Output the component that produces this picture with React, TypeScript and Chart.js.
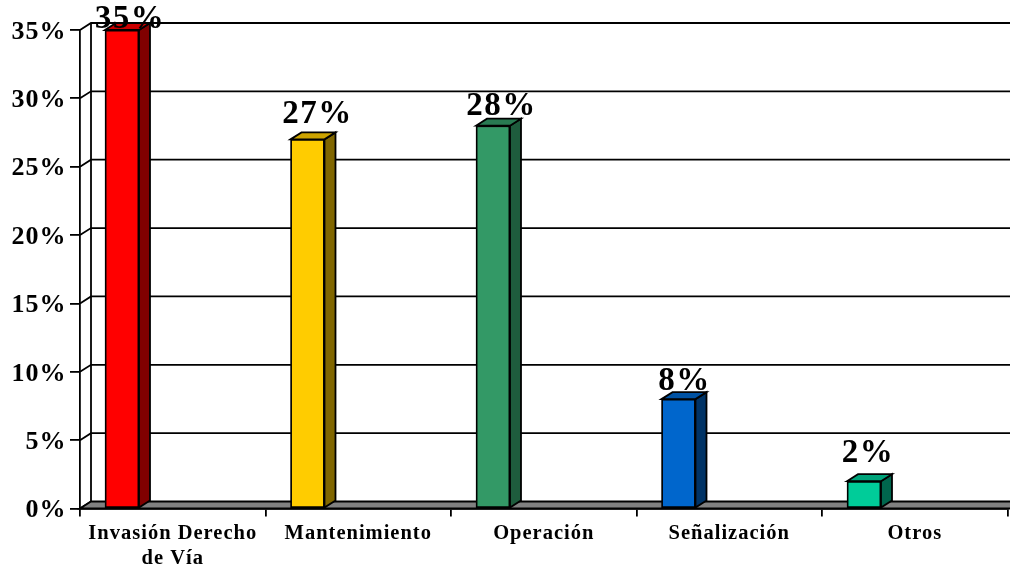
import React, { useEffect, useRef } from "react";
import { Chart, registerables } from "chart.js";

Chart.register(...registerables);

const categories: (string | string[])[] = [
  ["Invasión Derecho", "de Vía"],
  "Mantenimiento",
  "Operación",
  "Señalización",
  "Otros",
];
const shares = [35, 27, 28, 8, 2];
const yTickStep = 5;
const yMax = 35;

const frontColors = ["#FF0000", "#FFCC00", "#339966", "#0066CC", "#00CC99"];
const sideColors = ["#800000", "#806600", "#1E5C3D", "#003366", "#00664D"];
const topColors = ["#CC0000", "#CCA300", "#297A52", "#0052A3", "#00A37A"];

const labelNudgeX = [8, 10, 8.5, 6, 4];
const labelGapY = [2, 16, 11, 9, 19];

const DEPTH_X = 11;
const DEPTH_Y = 7;
const LINE = 1.8;
const FONT = "Liberation Serif";

const poly = (ctx: CanvasRenderingContext2D, pts: number[][], fill: string | null) => {
  ctx.beginPath();
  pts.forEach(([x, y], i) => (i ? ctx.lineTo(x, y) : ctx.moveTo(x, y)));
  ctx.closePath();
  if (fill) {
    ctx.fillStyle = fill;
    ctx.fill();
  }
  ctx.stroke();
};

const box3d = {
  id: "box3d",
  beforeDraw(chart: any) {
    (chart.ctx as any).letterSpacing = "1px";
  },
  beforeDatasetsDraw(chart: any) {
    const { ctx, chartArea: a, scales } = chart;
    const y = scales.y;
    ctx.save();
    ctx.strokeStyle = "#000";
    ctx.lineWidth = LINE;
    // back wall gridlines and left wall diagonals
    y.ticks.forEach((t: any) => {
      const py = y.getPixelForValue(t.value);
      ctx.beginPath();
      ctx.moveTo(a.left, py);
      ctx.lineTo(a.left + DEPTH_X, py - DEPTH_Y);
      if (t.value !== 0) ctx.lineTo(chart.width + DEPTH_X, py - DEPTH_Y);
      ctx.stroke();
    });
    ctx.beginPath();
    ctx.moveTo(a.left + DEPTH_X, a.top - DEPTH_Y);
    ctx.lineTo(a.left + DEPTH_X, a.bottom - DEPTH_Y);
    ctx.stroke();
    // floor
    poly(
      ctx,
      [
        [a.left, a.bottom],
        [a.left + DEPTH_X, a.bottom - DEPTH_Y],
        [chart.width + DEPTH_X, a.bottom - DEPTH_Y],
        [a.right + 4, a.bottom],
      ],
      "#808080"
    );
    // bar side and top faces
    chart.getDatasetMeta(0).data.forEach((bar: any, i: number) => {
      const l = bar.x - bar.width / 2;
      const r = bar.x + bar.width / 2;
      poly(
        ctx,
        [
          [r, bar.y],
          [r + DEPTH_X, bar.y - DEPTH_Y],
          [r + DEPTH_X, bar.base - DEPTH_Y],
          [r, bar.base],
        ],
        sideColors[i]
      );
      poly(
        ctx,
        [
          [l, bar.y],
          [l + DEPTH_X, bar.y - DEPTH_Y],
          [r + DEPTH_X, bar.y - DEPTH_Y],
          [r, bar.y],
        ],
        topColors[i]
      );
    });
    ctx.restore();
  },
  afterDatasetsDraw(chart: any) {
    const { ctx } = chart;
    ctx.save();
    ctx.fillStyle = "#000";
    ctx.font = `bold 33px "${FONT}"`;
    (ctx as any).letterSpacing = "1.5px";
    ctx.textAlign = "center";
    ctx.textBaseline = "alphabetic";
    chart.getDatasetMeta(0).data.forEach((bar: any, i: number) => {
      ctx.fillText(`${shares[i]}%`, bar.x + labelNudgeX[i], bar.y - labelGapY[i]);
    });
    ctx.restore();
  },
};

export default function App() {
  const ref = useRef<HTMLCanvasElement>(null);
  useEffect(() => {
    document.body.style.margin = "0";
    const chart = new Chart(ref.current!, {
      type: "bar",
      data: {
        labels: categories as any,
        datasets: [
          {
            data: shares.map((v, i) => ({ x: i, y: v })) as any,
            xAxisID: "xBars",
            yAxisID: "y",
            backgroundColor: frontColors,
            borderColor: "#000",
            borderWidth: LINE,
            borderSkipped: false,
            barThickness: 34,
          },
        ],
      },
      options: {
        responsive: false,
        animation: false,
        devicePixelRatio: 1,
        layout: { autoPadding: false, padding: { top: 30, right: 2.5, left: 0, bottom: 0 } },
        plugins: { legend: { display: false }, tooltip: { enabled: false } },
        scales: {
          xBars: { type: "linear", display: false, offset: false, min: -0.2264, max: 4.7736, grid: { offset: false } },
          x: {
            type: "category",
            offset: true,
            afterFit: (s: any) => {
              s.height = 55.5;
            },
            grid: { offset: true, drawOnChartArea: false, color: "#000", lineWidth: LINE, tickLength: 8 },
            border: { color: "#000", width: LINE },
            ticks: {
              color: "#000",
              font: { family: FONT, size: 20.5, weight: "bold", lineHeight: 1.2 },
              padding: 5,
              maxRotation: 0,
              autoSkip: false,
            },
          },
          y: {
            type: "linear",
            min: 0,
            max: yMax,
            afterFit: (s: any) => {
              s.width = 80;
            },
            grid: { drawOnChartArea: false, color: "#000", lineWidth: LINE, tickLength: 10 },
            border: { color: "#000", width: LINE },
            ticks: {
              stepSize: yTickStep,
              color: "#000",
              font: { family: FONT, size: 26, weight: "bold" },
              padding: 3.5,
              labelOffset: 2,
              callback: (v: any) => `${v}%`,
            },
          },
        } as any,
      },
      plugins: [box3d],
    });
    return () => chart.destroy();
  }, []);
  return <canvas ref={ref} width={1010} height={564} style={{ display: "block" }} />;
}
